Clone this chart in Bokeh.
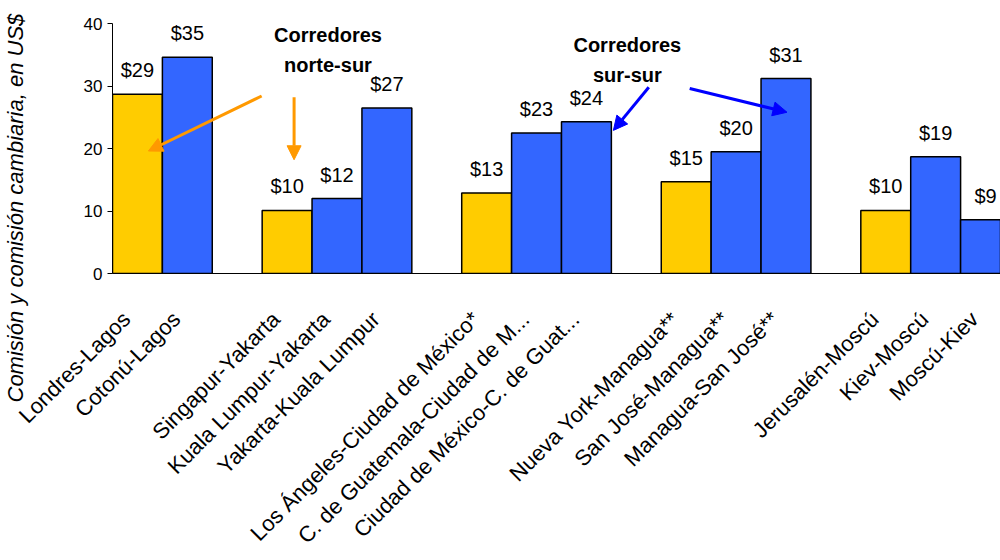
import math
from bokeh.plotting import figure
from bokeh.models import ColumnDataSource, LabelSet, Label, Arrow, NormalHead, Range1d, FixedTicker, Title
from bokeh.core.properties import value
from bokeh.embed import file_html
from bokeh.resources import INLINE

# ---- data ----
routes = [
    "Londres-Lagos", "Cotonú-Lagos",
    "Singapur-Yakarta", "Kuala Lumpur-Yakarta", "Yakarta-Kuala Lumpur",
    "Los Ángeles-Ciudad de México*", "C. de Guatemala-Ciudad de M...", "Ciudad de México-C. de Guat...",
    "Nueva York-Managua**", "San José-Managua**", "Managua-San José**",
    "Jerusalén-Moscú", "Kiev-Moscú", "Moscú-Kiev",
]
corridor = [
    "Norte-Sur", "Sur-Sur",
    "Norte-Sur", "Sur-Sur", "Sur-Sur",
    "Norte-Sur", "Sur-Sur", "Sur-Sur",
    "Norte-Sur", "Sur-Sur", "Sur-Sur",
    "Norte-Sur", "Sur-Sur", "Sur-Sur",
]
group = [0, 0, 1, 1, 1, 2, 2, 2, 3, 3, 3, 4, 4, 4]
fees = [28.7, 34.6, 10.1, 12.0, 26.5, 12.9, 22.5, 24.3, 14.7, 19.5, 31.2, 10.1, 18.7, 8.6]
fee_labels = ["$29", "$35", "$10", "$12", "$27", "$13", "$23", "$24", "$15", "$20", "$31", "$10", "$19", "$9"]
y_ticks = [0, 10, 20, 30, 40]
y_title = "Comisión y comisión cambiaria, en US$"
note_ns = ["Corredores", "norte-sur"]
note_ss = ["Corredores", "sur-sur"]

palette = {"Norte-Sur": "#FFCC00", "Sur-Sur": "#3366FF"}
FONT = "Liberation Sans"

xc = [i + g + 0.5 for i, g in enumerate(group)]
src = ColumnDataSource(dict(
    x=xc, top=fees, color=[palette[c] for c in corridor],
    route=routes, label=fee_labels,
))

p = figure(width=1000, height=560, output_backend="svg", toolbar_location=None,
           x_range=Range1d(0, 17.8), y_range=Range1d(0, 40),
           min_border_left=112, min_border_right=0, min_border_top=23, min_border_bottom=286)
p.outline_line_color = None
p.xgrid.grid_line_color = None
p.ygrid.grid_line_color = None
p.background_fill_color = "white"

p.vbar(x="x", top="top", bottom=0, width=1.0, fill_color="color",
       line_color="black", line_width=1.5, source=src)

# x axis: rotated route names
tick_pos = [v - 0.22 for v in xc]
p.xaxis.ticker = FixedTicker(ticks=tick_pos)
p.xaxis.major_label_overrides = {t: r for t, r in zip(tick_pos, routes)}
p.xaxis.major_label_orientation = math.pi / 4
p.xaxis.major_tick_line_color = None
p.xaxis.major_tick_out = 0
p.xaxis.minor_tick_line_color = None
p.xaxis.axis_line_color = "black"
p.xaxis.major_label_standoff = 42
p.xaxis.major_label_text_font = FONT
p.xaxis.major_label_text_font_size = "22px"
p.xaxis.major_label_text_color = "black"

# y axis
p.yaxis.ticker = FixedTicker(ticks=y_ticks)
p.yaxis.major_tick_out = 5
p.yaxis.major_tick_in = 0
p.yaxis.minor_tick_line_color = None
p.yaxis.axis_line_color = "black"
p.yaxis.major_tick_line_color = "black"
p.yaxis.major_label_standoff = 5
p.yaxis.major_label_text_font = FONT
p.yaxis.major_label_text_font_size = "17px"
p.yaxis.major_label_text_color = "black"
# spacer between tick labels and the rotated title
p.yaxis.axis_label = " "
p.yaxis.axis_label_text_font_size = "1px"
p.yaxis.axis_label_standoff = 49

# y title
p.add_layout(Title(text=y_title, align="left", offset=-129, standoff=0,
                   text_font=FONT, text_font_style="italic", text_font_size="22px",
                   text_color="black"), "left")

# value labels
p.add_layout(LabelSet(x="x", y="top", text="label", source=src, y_offset=17,
                      text_align="center", text_baseline="alphabetic",
                      text_font=value(FONT), text_font_size=value("20px"), text_color="black"))

# notes
for txt, (nx, ny) in zip(note_ns, [(4.32, 38.2), (4.32, 33.4)]):
    p.add_layout(Label(x=nx, y=ny, text=txt, text_align="center", text_baseline="alphabetic",
                       text_font=FONT, text_font_style="bold", text_font_size="20px",
                       text_color="black"))
for txt, (nx, ny) in zip(note_ss, [(10.32, 36.6), (10.32, 31.8)]):
    p.add_layout(Label(x=nx, y=ny, text=txt, text_align="center", text_baseline="alphabetic",
                       text_font=FONT, text_font_style="bold", text_font_size="20px",
                       text_color="black"))

# arrows
ORANGE = "#FF9900"
BLUE = "#0000FF"
for (x0, y0, x1, y1, c) in [
    (2.99, 28.4, 0.72, 19.6, ORANGE),
    (3.64, 28.2, 3.64, 18.2, ORANGE),
    (10.75, 29.8, 10.04, 22.9, BLUE),
    (11.57, 29.6, 13.52, 25.8, BLUE),
]:
    p.add_layout(Arrow(end=NormalHead(size=14, fill_color=c, line_color=c, line_width=1),
                       x_start=x0, y_start=y0, x_end=x1, y_end=y1,
                       line_color=c, line_width=3))

open("out.html", "w").write(file_html(p, INLINE))
